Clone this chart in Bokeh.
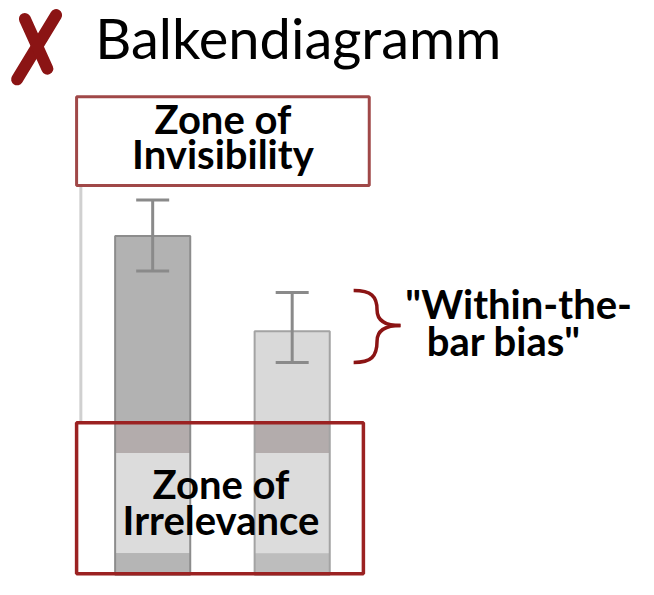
from bokeh.plotting import figure
from bokeh.models import Range1d, ColumnDataSource, Whisker, TeeHead
from bokeh.core.properties import value
from bokeh.embed import file_html
from bokeh.resources import INLINE

# ---- data ----
categories = ["Bedingung A", "Bedingung B"]
means = [6.96, 5.00]
err_lower = [6.24, 4.36]
err_upper = [7.70, 5.80]
title_text = "Balkendiagramm"
zone_top_lines = ["Zone of", "Invisibility"]
zone_bottom_lines = ["Zone of", "Irrelevance"]
note_lines = ['"Within-the-', 'bar bias"']
# zone boundaries in value units
irrelevance_top = 3.12
irrelevance_band = 2.50
irrelevance_floor = 0.44
invisibility_bottom = 8.0

FONT = "Lato"
DARK_RED = "#8b1414"

# layout coordinates: the whole 654x595 canvas mapped onto the figure
X0, X1, Y0, Y1 = 0, 654, 0, 595
p = figure(width=638, height=579, x_range=Range1d(X0, X1), y_range=Range1d(Y1, Y0),
           output_backend="svg", toolbar_location=None, min_border=0,
           x_axis_location=None, y_axis_location=None)
p.grid.visible = False
p.outline_line_color = None
p.background_fill_color = "white"
p.border_fill_color = "white"

# data ranges: 1 value unit = 50 layout units, baseline at 590; category spacing 143
px_per_val = 50.0
base_px = 590.0
p.extra_y_ranges = {"val": Range1d((base_px - Y1) / px_per_val, (base_px - Y0) / px_per_val)}
cat_px = 143.0
cat0 = 156.0
p.extra_x_ranges = {"cat": Range1d((X0 - cat0) / cat_px, (X1 - cat0) / cat_px)}

xs = list(range(len(categories)))
bar_w = 77 / cat_px
src = ColumnDataSource(dict(x=xs, top=means, lower=err_lower, upper=err_upper,
                            fill=["#b2b2b2", "#d9d9d9"], line=["#8c8c8c", "#a3a3a3"],
                            floor_fill=["#b5b5b5", "#bdbdbd"]))
kw = dict(x_range_name="cat", y_range_name="val")

# axis line (light gray)
p.segment(x0=[-0.515], y0=[irrelevance_top], x1=[-0.515], y1=[invisibility_bottom],
          line_color="#d0d0d0", line_width=3, **kw)

# bar fills
p.vbar(x="x", top="top", bottom=0, width=bar_w, source=src, fill_color="fill",
       line_color=None, **kw)
# zone of irrelevance overlays on bars
p.vbar(x="x", top=irrelevance_top, bottom=irrelevance_band, width=bar_w, source=src,
       fill_color="#b3acac", line_color=None, **kw)
p.vbar(x="x", top=irrelevance_band, bottom=irrelevance_floor, width=bar_w, source=src,
       fill_color="#dcdcdc", line_color=None, **kw)
p.vbar(x="x", top=irrelevance_floor, bottom=0, width=bar_w, source=src,
       fill_color="floor_fill", line_color=None, **kw)
# bar outlines
p.vbar(x="x", top="top", bottom=0, width=bar_w, source=src, fill_color=None,
       line_color="line", line_width=2, **kw)

wh = Whisker(base="x", lower="lower", upper="upper", source=src,
             line_color="#8a8a8a", line_width=3, level="annotation",
             upper_head=TeeHead(size=33, line_color="#8a8a8a", line_width=3),
             lower_head=TeeHead(size=33, line_color="#8a8a8a", line_width=3), **kw)
p.add_layout(wh)

# zone boxes
p.quad(left=[78], right=[378], top=[99], bottom=[190], fill_color="white",
       line_color="#a04848", line_width=3)
p.quad(left=[78], right=[372], top=[434], bottom=[589], fill_color=None,
       line_color="#9b2222", line_width=3.5)

# red X
p.segment(x0=[57, 25], y0=[15, 19], x1=[17, 48], y1=[81, 70], line_color=DARK_RED,
          line_width=12, line_cap="round")

# brace
p.bezier(x0=[362, 386, 410, 386], y0=[298, 318, 334, 350],
         x1=[386, 410, 386, 362], y1=[318, 334, 350, 372],
         cx0=[380, 386, 396, 386], cy0=[298, 330, 334, 366],
         cx1=[386, 396, 386, 380], cy1=[304, 334, 338, 372],
         line_color=DARK_RED, line_width=3.5)

# texts (y values compensate for the renderer's baseline offset)
p.text(x=[97], y=[38], text=[title_text], text_font=value(FONT), text_font_size="56px",
       text_color="black", text_align="left", text_baseline="alphabetic")
p.text(x=[228, 228], y=[122, 158], text=zone_top_lines, text_font=value(FONT),
       text_font_size="40px", text_font_style="bold", text_color="black",
       text_align="center", text_baseline="alphabetic")
p.text(x=[226, 226], y=[497, 534], text=zone_bottom_lines, text_font=value(FONT),
       text_font_size="40px", text_font_style="bold", text_color="black",
       text_align="center", text_baseline="alphabetic")
p.text(x=[415, 437], y=[312, 350], text=note_lines, text_font=value(FONT),
       text_font_size="40px", text_font_style="bold", text_color="black",
       text_align="left", text_baseline="alphabetic")

open("out.html", "w").write(file_html(p, INLINE))
